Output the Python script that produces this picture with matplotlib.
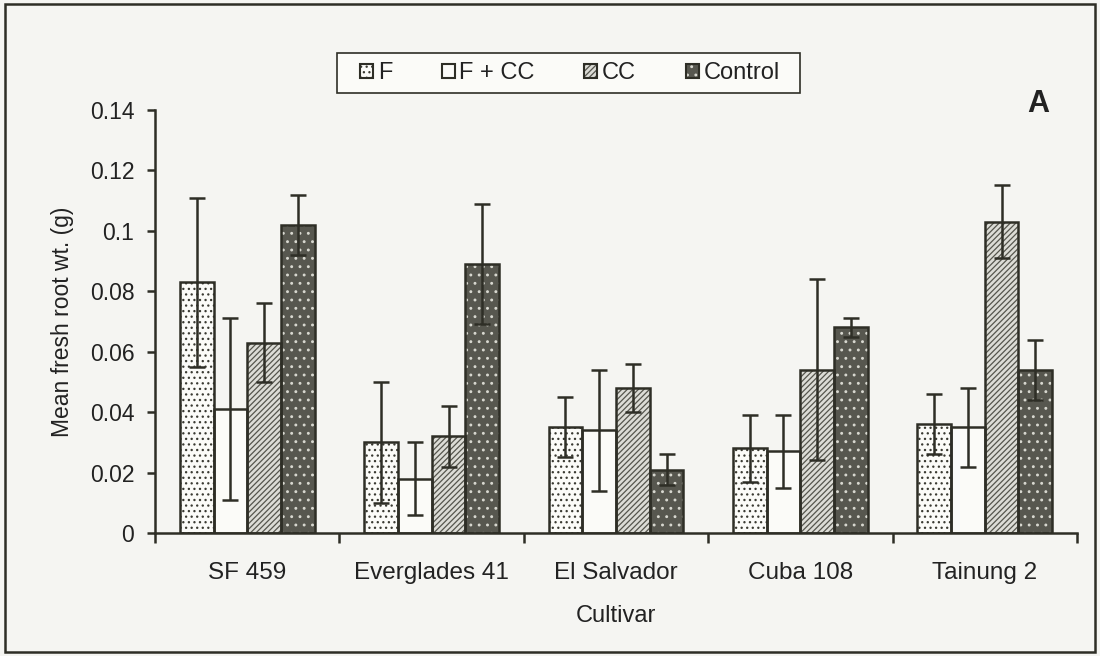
import matplotlib.pyplot as plt
import numpy as np
from matplotlib.patches import Rectangle, Patch

plt.rcParams['font.family'] = ['Liberation Sans', 'DejaVu Sans']
plt.rcParams['hatch.linewidth'] = 0.9

cultivars = ['SF 459', 'Everglades 41', 'El Salvador', 'Cuba 108', 'Tainung 2']
treatments = ['F', 'F + CC', 'CC', 'Control']

f_mean = [0.083, 0.030, 0.035, 0.028, 0.036]
f_err = [0.028, 0.020, 0.010, 0.011, 0.010]
fcc_mean = [0.041, 0.018, 0.034, 0.027, 0.035]
fcc_err = [0.030, 0.012, 0.020, 0.012, 0.013]
cc_mean = [0.063, 0.032, 0.048, 0.054, 0.103]
cc_err = [0.013, 0.010, 0.008, 0.030, 0.012]
ctrl_mean = [0.102, 0.089, 0.021, 0.068, 0.054]
ctrl_err = [0.010, 0.020, 0.005, 0.003, 0.010]

means = [f_mean, fcc_mean, cc_mean, ctrl_mean]
errs = [f_err, fcc_err, cc_err, ctrl_err]

dark = '#2e2e26'
txt = '#222222'
bg = '#f5f5f2'
# face colour, hatch colour, hatch
styles = [('#fbfbf8', '#3a3a32', '...'),
          ('#fbfbf8', '#fbfbf8', ''),
          ('#dcdcd6', '#55554d', '//////'),
          ('#57574f', '#d8d8d0', '..')]

fig = plt.figure(figsize=(11, 6.56), dpi=100, facecolor=bg)
ax = fig.add_axes([0.141, 0.1875, 0.838, 0.645])
ax.set_facecolor(bg)

x = np.arange(len(cultivars))
w = 0.183
handles = []
for i in range(4):
    xi = x + (i - 1.5) * w
    face, hcol, h = styles[i]
    ax.bar(xi, means[i], w, color=face, edgecolor=hcol, hatch=h, linewidth=0, zorder=2)
    ax.bar(xi, means[i], w, fill=False, edgecolor=dark, linewidth=1.8, zorder=3)
    ax.errorbar(xi, means[i], yerr=errs[i], fmt='none', ecolor=dark, elinewidth=1.8,
                capsize=6, capthick=1.8, zorder=4)
    handles.append((Patch(facecolor=face, edgecolor=hcol, hatch=h, linewidth=0),
                    Patch(fill=False, edgecolor=dark, linewidth=1.5)))

ax.set_xlim(-0.5, 4.5)
ax.set_ylim(0, 0.14)
ax.set_yticks(np.arange(0, 0.141, 0.02))
ax.set_yticklabels(['0', '0.02', '0.04', '0.06', '0.08', '0.1', '0.12', '0.14'])
ax.set_xticks(np.arange(-0.5, 4.6, 1.0))
ax.set_xticklabels([])
ax.set_xticks(x, minor=True)
ax.set_xticklabels(cultivars, minor=True)
ax.tick_params(axis='x', which='major', length=7, width=1.8, color=dark)
ax.tick_params(axis='x', which='minor', length=0, pad=21, labelsize=17.5, labelcolor=txt)
ax.tick_params(axis='y', length=6, width=1.8, color=dark, labelsize=16.5, labelcolor=txt, pad=9)

for s in ['top', 'right']:
    ax.spines[s].set_visible(False)
for s in ['left', 'bottom']:
    ax.spines[s].set_linewidth(1.8)
    ax.spines[s].set_color(dark)

ax.set_ylabel('Mean fresh root wt. (g)', fontsize=16.5, color=txt, labelpad=11)
ax.set_xlabel('Cultivar', fontsize=17, color=txt, labelpad=15)

leg = fig.legend(handles, treatments, loc='center', bbox_to_anchor=(0.518, 0.8887), ncol=4,
                 fontsize=17, frameon=False,
                 handlelength=0.55, handleheight=0.55, handletextpad=0.2,
                 columnspacing=2.1, borderpad=0.2)
for t in leg.get_texts():
    t.set_color(txt)
# legend frame: wider side padding than matplotlib gives
fig.patches.append(Rectangle((337 / 1100, 1 - 93 / 656), 463 / 1100, 40 / 656, transform=fig.transFigure,
                             facecolor='#fbfbf8', edgecolor=dark, linewidth=1.2, zorder=0))

fig.text(0.9436, 0.8415, 'A', fontsize=22, fontweight='bold', ha='center', va='center', color=txt)

fig.patches.append(Rectangle((5 / 1100, 4 / 656), 1090 / 1100, 648 / 656, transform=fig.transFigure,
                             fill=False, edgecolor=dark, linewidth=1.8))

fig.savefig('out.png', dpi=100, facecolor=bg)
